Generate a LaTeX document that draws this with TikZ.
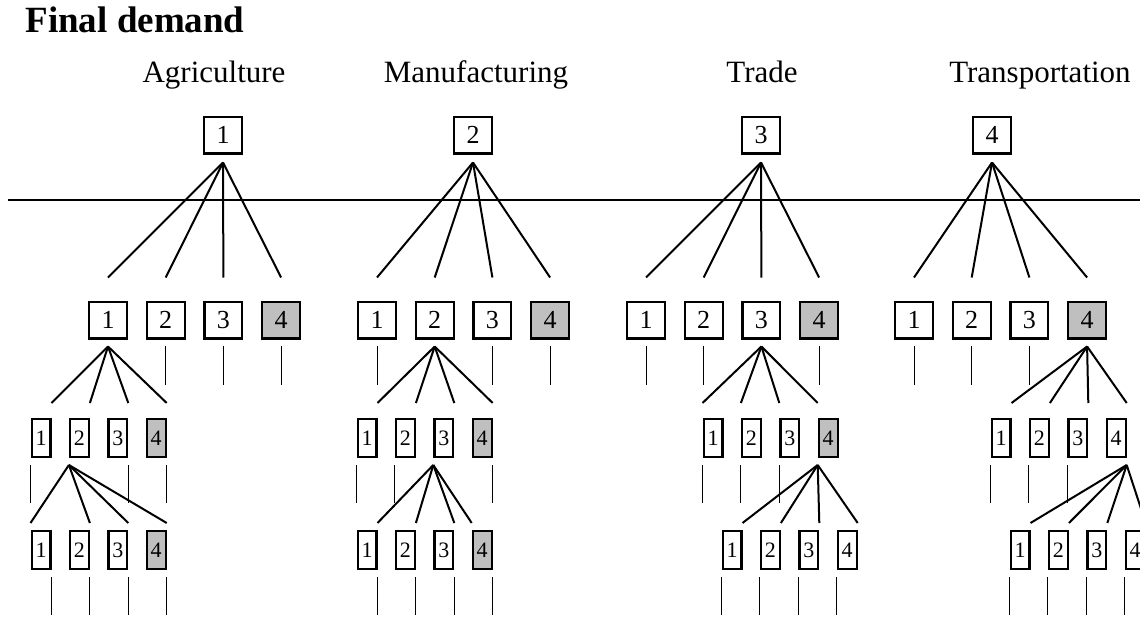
\documentclass[tikz,border=0pt]{standalone}
\usepackage{fontspec}
\setmainfont{Liberation Serif}

\begin{document}
\begin{tikzpicture}[x=1pt,y=-1pt,
  box/.style={draw,line width=2.2pt,inner sep=0pt,minimum width=37.8pt,minimum height=36.8pt,
    font=\fontsize{26}{26}\selectfont},
  slim/.style={box,minimum width=18.8pt,minimum height=37.8pt,font=\fontsize{22}{22}\selectfont},
  own/.style={fill=black!25},
  fan/.style={line width=2pt},
  stub/.style={line width=1pt}]
\path[use as bounding box,clip] (0,0) rectangle (1140,618);

\node[anchor=base west,font=\fontsize{37}{37}\selectfont\bfseries] (title) at (22,33) {Final demand};
\draw[line width=1.1pt] (8,200) coordinate (cut west) -- (1140,200) coordinate (cut east);

% final demand sectors
\foreach \s/\x/\lx/\name [count=\i] in {a/223/214/Agriculture, m/473/476/Manufacturing,
    t/761/762/Trade, p/992/1040/Transportation}{
  \node[anchor=base,font=\fontsize{31}{31}\selectfont] (\s-label) at (\lx,82) {\name};
  \node[box] (\s) at (\x,135) {\i};
}

% first round of inputs
\foreach \s/\x in {a/108, m/377, t/646, p/914}{
  \foreach \i in {1,2,3}
    \node[box] (\s2-\i) at (\x+57.7*\i-57.7,320) {\i};
  \node[box,own] (\s2-4) at (\x+3*57.7,320) {4};
  \foreach \i in {1,...,4}
    \draw[fan] ([yshift=-8pt]\s.south) -- ([yshift=23pt]\s2-\i.north);
}

% second round
\foreach \s/\x/\f in {a/41/black!25, m/367/black!25, t/713/black!25, p/1001/white}{
  \foreach \i in {1,2,3}
    \node[slim] (\s3-\i) at (\x+38.4*\i-38.4,438) {\i};
  \node[slim,fill=\f] (\s3-4) at (\x+3*38.4,438) {4};
}
\foreach \s/\p/\c in {a/1/east, m/2/east, t/3/west, p/4/east}
  \foreach \i in {1,...,4}
    \draw[fan] ([yshift=-7pt]\s2-\p.south) -- ([yshift=15pt]\s3-\i.north \c);

% third round
\foreach \s/\x/\f in {a/41/black!25, m/367/black!25, t/732/white, p/1020/white}{
  \foreach \i in {1,2,3}
    \node[slim] (\s4-\i) at (\x+38.4*\i-38.4,550) {\i};
  \node[slim,fill=\f] (\s4-4) at (\x+3*38.4,550) {4};
}
\foreach \p/\ends in {
    a3-2.south west/{a4-1.north west,a4-2.north east,a4-3.north east,a4-4.north east},
    m3-3.south west/{m4-1.north east,m4-2.north east,m4-3.north east,m4-4.north west},
    t3-4.south west/{t4-1.north east,t4-2.north east,t4-3.north east,t4-4.north east},
    p3-4.south east/{p4-1.north east,p4-2.north east,p4-3.north east,p4-4.north east}}
  \foreach \c in \ends
    \draw[fan] ([yshift=-7pt]\p) -- ([yshift=7pt]\c);

% inputs that are not followed further
\foreach \b in {a2-2,a2-3,a2-4,m2-1,m2-3,m2-4,t2-1,t2-2,t2-4,p2-1,p2-2,p2-3}
  \draw[stub] ([yshift=-6pt]\b.south) -- ++(0,39);
\foreach \b in {a3-1.south west,a3-3.south east,a3-4.south east,
    m3-1.south west,m3-2.south west,m3-4.south east,
    t3-1.south west,t3-2.south west,t3-3.south west,
    p3-1.south west,p3-2.south west,p3-3.south west}
  \draw[stub] ([yshift=-7pt]\b) -- ++(0,38);
\foreach \s/\c in {a/east, m/east, t/west, p/west}
  \foreach \i in {1,...,4}
    \draw[stub] ([yshift=-7pt]\s4-\i.south \c) -- ++(0,38);
\end{tikzpicture}
\end{document}
